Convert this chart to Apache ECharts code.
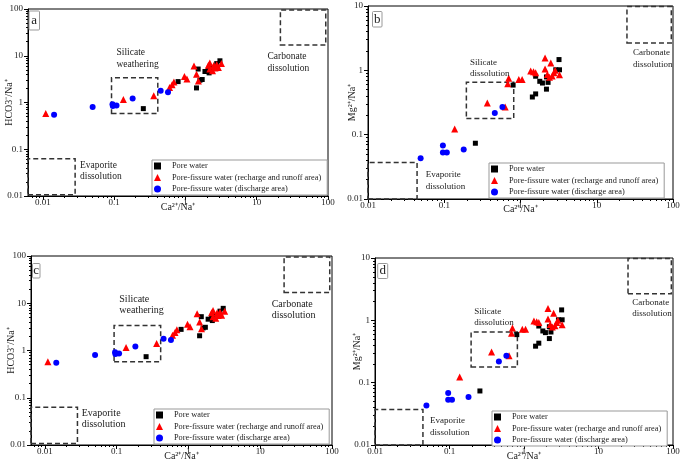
<!DOCTYPE html>
<html>
<head>
<meta charset="utf-8">
<script src="https://cdn.jsdelivr.net/npm/echarts@6/dist/echarts.min.js"></script>
<style>
html, body { margin: 0; background: #fff; }
#main { width: 685px; height: 471px; }
</style>
</head>
<body>
<div id="main"></div>
<script>
// HCO3-/Na+ against Ca2+/Na+ (panels a and c), pairs [Ca/Na, HCO3/Na]
var poreHco3 = [[0.257, 0.74], [0.79, 2.8], [1.43, 2.05], [1.51, 5.2], [1.6, 3.0], [1.72, 3.1], [1.88, 4.6],
  [2.1, 5.0], [2.15, 4.3], [2.2, 5.5], [2.75, 6.8], [3.05, 7.8]];
var rechargeHco3 = [[0.011, 0.58], [0.135, 1.16], [0.36, 1.4], [0.6, 2.1], [0.65, 2.4], [0.69, 2.75], [0.97, 3.6],
  [1.05, 3.2], [1.32, 6.0], [1.43, 4.0], [1.52, 2.9], [2.1, 6.3], [2.2, 7.0], [2.2, 5.2], [2.4, 4.8],
  [2.5, 6.2], [2.6, 5.5], [2.75, 6.5], [2.9, 5.6], [3.2, 6.8]];
var dischargeHco3 = [[0.0144, 0.55], [0.05, 0.8], [0.095, 0.92], [0.096, 0.84], [0.108, 0.86], [0.182, 1.22],
  [0.45, 1.78], [0.57, 1.66]];

// Mg2+/Na+ against Ca2+/Na+ (panels b and d)
var poreMg = [[0.256, 0.0736], [0.8, 0.59], [1.43, 0.385], [1.58, 0.43], [1.58, 0.81], [1.79, 0.675], [1.94, 0.635],
  [2.19, 0.51], [2.19, 0.79], [2.3, 0.65], [2.9, 1.02], [3.2, 1.47], [3.25, 1.02]];
var rechargeMg = [[0.137, 0.123], [0.367, 0.31], [0.63, 0.27], [0.68, 0.62], [0.7, 0.75], [0.95, 0.72], [1.05, 0.72],
  [1.36, 0.98], [1.48, 0.95], [1.58, 0.92], [2.1, 1.55], [2.1, 1.05], [2.25, 0.86], [2.4, 0.78], [2.5, 1.3],
  [2.6, 0.82], [2.75, 0.92], [2.85, 1.0], [3.25, 0.85]];
var dischargeMg = [[0.049, 0.043], [0.096, 0.068], [0.096, 0.053], [0.108, 0.053], [0.18, 0.059], [0.46, 0.218],
  [0.58, 0.27]];

// end-member boxes [[x1, y1], [x2, y2]]
var boxesHco3 = [[[0.0062, 0.0107], [0.0284, 0.063]], [[0.092, 0.58], [0.41, 3.4]], [[21.5, 16.9], [93, 95]]];
var boxesMg = [[[0.01, 0.01], [0.044, 0.037]], [[0.195, 0.178], [0.815, 0.65]], [[24.9, 2.66], [95, 9.8]]];

var seriesNames = ["Pore water", "Pore-fissure water (recharge and runoff area)", "Pore-fissure water (discharge area)"];
var decadeLabels = [0.001, 0.01, 0.1, 1, 10, 100];

var serif = "Liberation Serif";

var panels = [
  { letter: "a", grid: { left: 28, top: 9, width: 300, height: 187 }, xMin: 0.0062, yMax: 100,
    yName: "HCO3⁻/Na⁺", yGap: 14, xGap: 6, data: [poreHco3, rechargeHco3, dischargeHco3], boxes: boxesHco3,
    legend: { left: 152, top: 160 }, letterBox: [29, 11, 10.5, 19], fs: 9.5,
    notes: [["Silicate\nweathering", 116.5, 47], ["Carbonate\ndissolution", 267.5, 51], ["Evaporite\ndissolution", 80, 159.5]] },
  { letter: "b", grid: { left: 368, top: 6, width: 305, height: 193 }, xMin: 0.01, yMax: 10,
    yName: "Mg²⁺/Na⁺", yGap: 11, xGap: 5, data: [poreMg, rechargeMg, dischargeMg], boxes: boxesMg,
    legend: { left: 489, top: 163 }, letterBox: [372.5, 11.5, 9.5, 15.5], fs: 9,
    notes: [["Silicate\ndissolution", 470, 56.5], ["Carbonate\ndissolution", 633, 47.3], ["Evaporite\ndissolution", 425.7, 169.3]] },
  { letter: "c", grid: { left: 31, top: 256, width: 301, height: 189 }, xMin: 0.0064, yMax: 100,
    yName: "HCO3⁻/Na⁺", yGap: 15, xGap: 6, data: [poreHco3, rechargeHco3, dischargeHco3], boxes: boxesHco3,
    legend: { left: 154, top: 409 }, letterBox: [32.5, 263.5, 7.5, 14.5], fs: 10,
    notes: [["Silicate\nweathering", 119.3, 293.5], ["Carbonate\ndissolution", 271.7, 298.5], ["Evaporite\ndissolution", 81.7, 407.5]] },
  { letter: "d", grid: { left: 375, top: 258, width: 298, height: 187 }, xMin: 0.01, yMax: 10,
    yName: "Mg²⁺/Na⁺", yGap: 13, xGap: 6, data: [poreMg, rechargeMg, dischargeMg], boxes: boxesMg,
    legend: { left: 492, top: 411 }, letterBox: [377.7, 263.5, 10, 15], fs: 9,
    notes: [["Silicate\ndissolution", 474.3, 305.7], ["Carbonate\ndissolution", 632.3, 296.4], ["Evaporite\ndissolution", 430, 415]] }
];

var minorValues = [];
for (var e = -3; e < 2; e++) {
  for (var m = 2; m < 10; m++) {
    minorValues.push(+(m * Math.pow(10, e)).toPrecision(3));
  }
}

function inRange(list, lo, hi) {
  return list.filter(function(v) { return v >= lo * 0.999 && v <= hi * 1.001; });
}

function fmt(v) {
  return String(+v.toPrecision(3));
}

var grids = [], xAxes = [], yAxes = [], series = [], legends = [], graphics = [];
var markers = [
  { symbol: "rect", size: 5, color: "#000000" },
  { symbol: "triangle", size: 7, color: "#ff0000" },
  { symbol: "circle", size: 6, color: "#0000ff" }
];

panels.forEach(function(p, i) {
  var g = p.grid;
  grids.push({ left: g.left, top: g.top, width: g.width, height: g.height, show: true,
    outerBoundsMode: "none", containLabel: false,
    borderColor: "#000", borderWidth: 1, backgroundColor: "transparent" });
  var xRange = [p.xMin, 100], yRange = [0.01, p.yMax];
  xAxes.push({
    type: "log", logBase: 10, gridIndex: i, min: xRange[0], max: xRange[1],
    name: "Ca²⁺/Na⁺", nameLocation: "middle", nameGap: p.xGap, nameMoveOverlap: false,
    nameTextStyle: { fontFamily: serif, fontSize: 10, color: "#222" },
    axisLine: { lineStyle: { color: "#000", width: 1 } },
    axisTick: { customValues: inRange(decadeLabels, xRange[0], xRange[1]), length: 4, lineStyle: { color: "#000" } },
    axisLabel: { customValues: inRange(decadeLabels, xRange[0], xRange[1]), formatter: fmt, margin: 2,
      fontFamily: serif, fontSize: 9, color: "#222" },
    splitLine: { show: false }
  });
  yAxes.push({
    type: "log", logBase: 10, gridIndex: i, min: yRange[0], max: yRange[1],
    name: p.yName, nameLocation: "middle", nameGap: p.yGap, nameMoveOverlap: false,
    nameTextStyle: { fontFamily: serif, fontSize: 10, color: "#222" },
    axisLine: { lineStyle: { color: "#000", width: 1 } },
    axisTick: { customValues: inRange(decadeLabels, yRange[0], yRange[1]), length: 4, lineStyle: { color: "#000" } },
    axisLabel: { customValues: inRange(decadeLabels, yRange[0], yRange[1]), formatter: fmt, margin: 5,
      fontFamily: serif, fontSize: 9, color: "#222" },
    splitLine: { show: false }
  });

  p.data.forEach(function(d, k) {
    var s = {
      name: seriesNames[k], type: "scatter", xAxisIndex: i, yAxisIndex: i,
      symbol: markers[k].symbol, symbolSize: markers[k].size,
      itemStyle: { color: markers[k].color, opacity: 1 },
      data: d, z: 5
    };
    if (k === 0) {
      s.markArea = {
        silent: true,
        itemStyle: { color: "transparent", borderColor: "#333", borderWidth: 1.5, borderType: [5, 3] },
        data: p.boxes.map(function(b) { return [{ coord: b[0] }, { coord: b[1] }]; })
      };
    }
    series.push(s);
  });

  legends.push({
    left: p.legend.left, top: p.legend.top, orient: "vertical",
    data: seriesNames.map(function(n, k) { return { name: n, icon: markers[k].symbol }; }),
    itemWidth: 7, itemHeight: 7, itemGap: 1.5, padding: [1, 6, 1, 2],
    borderColor: "#999", borderWidth: 1, backgroundColor: "#fff",
    textStyle: { fontFamily: serif, fontSize: 8.3, color: "#222", lineHeight: 10, padding: [0, 0, 0, 6] },
    selectedMode: false
  });

  var lb = p.letterBox;
  graphics.push({ type: "rect", shape: { x: lb[0], y: lb[1], width: lb[2], height: lb[3], r: 1 },
    style: { fill: "#fff", stroke: "#999", lineWidth: 1 }, z: 10 });
  graphics.push({ type: "text", x: lb[0] + lb[2] / 2, y: lb[1] + lb[3] / 2,
    style: { text: p.letter, fontFamily: serif, fontSize: 13, fill: "#222", align: "center", verticalAlign: "middle" }, z: 11 });
  p.notes.forEach(function(n) {
    graphics.push({ type: "text", x: n[1], y: n[2],
      style: { text: n[0], fontFamily: serif, fontSize: p.fs, lineHeight: 11.5, fill: "#222", verticalAlign: "top" }, z: 10 });
  });
});

// minor ticks drawn on overlay grids with the same rectangles
panels.forEach(function(p, i) {
  var g = p.grid, gi = panels.length + i;
  grids.push({ left: g.left, top: g.top, width: g.width, height: g.height, show: false,
    outerBoundsMode: "none", containLabel: false });
  xAxes.push({ type: "log", gridIndex: gi, min: p.xMin, max: 100, axisLine: { show: false },
    axisLabel: { show: false }, splitLine: { show: false },
    axisTick: { customValues: inRange(minorValues, p.xMin, 100), length: 2, lineStyle: { color: "#000" } } });
  yAxes.push({ type: "log", gridIndex: gi, min: 0.01, max: p.yMax, axisLine: { show: false },
    axisLabel: { show: false }, splitLine: { show: false },
    axisTick: { customValues: inRange(minorValues, 0.01, p.yMax), length: 2, lineStyle: { color: "#000" } } });
});

var myChart = echarts.init(document.getElementById("main"), null, { renderer: "canvas" });
myChart.setOption({
  backgroundColor: "#fff",
  animation: false,
  grid: grids,
  xAxis: xAxes,
  yAxis: yAxes,
  legend: legends,
  series: series,
  graphic: graphics
});
</script>
</body>
</html>
